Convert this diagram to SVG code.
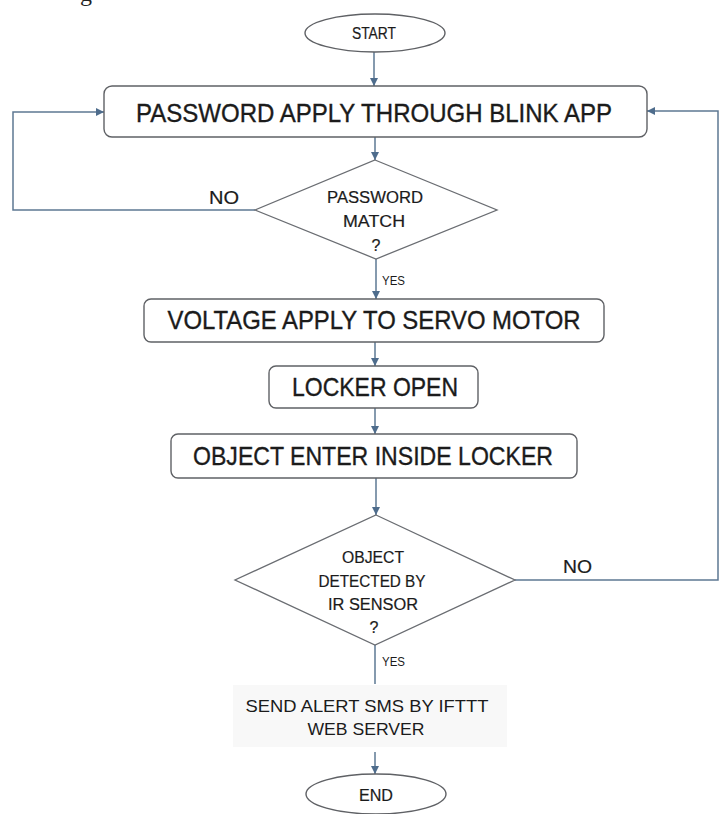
<svg xmlns="http://www.w3.org/2000/svg" width="723" height="814" viewBox="0 0 723 814">
  <style>
    .box { fill: #ffffff; stroke: #5f6165; stroke-width: 1.4; }
    .dia { fill: #ffffff; stroke: #6a6d72; stroke-width: 1.3; }
    .conn { fill: none; stroke: #5d7893; stroke-width: 1.5; }
    .t { font-family: "Liberation Sans", Arial, sans-serif; fill: #1b1b1b; text-anchor: middle; }
    .big { font-size: 25px; stroke: #1b1b1b; stroke-width: 0.35; }
    .mid { font-size: 16px; stroke: #1b1b1b; stroke-width: 0.2; }
    .small { font-size: 12px; text-anchor: start; }
    .lbl { font-size: 18px; text-anchor: start; stroke: #1b1b1b; stroke-width: 0.2; }
  </style>
  <defs>
    <marker id="arrow" markerUnits="userSpaceOnUse" markerWidth="9" markerHeight="9" refX="8" refY="4" orient="auto">
      <path d="M0,0 L8,4 L0,8 z" fill="#4e6c8c"/>
    </marker>
  </defs>

  <rect width="723" height="814" fill="#ffffff"/>

  <!-- tail of a glyph from the caption line above -->
  <text x="80" y="1" font-family="Liberation Serif, serif" font-size="24" fill="#222">g</text>

  <!-- connectors -->
  <g id="connectors">
    <path class="conn" d="M374,52 V86" marker-end="url(#arrow)"/>
    <path class="conn" d="M375,137 V160" marker-end="url(#arrow)"/>
    <path class="conn" d="M255,210 H13 V112 H104" marker-end="url(#arrow)"/>
    <path class="conn" d="M376,259 V299" marker-end="url(#arrow)"/>
    <path class="conn" d="M375,342 V366" marker-end="url(#arrow)"/>
    <path class="conn" d="M375,408 V434" marker-end="url(#arrow)"/>
    <path class="conn" d="M376,478 V515" marker-end="url(#arrow)"/>
    <path class="conn" d="M515,580 H718 V111 H647" marker-end="url(#arrow)"/>
    <path class="conn" d="M375,645 V684"/>
    <path class="conn" d="M375,752 V774" marker-end="url(#arrow)"/>
    <text class="t lbl" x="209" y="204" textLength="30" lengthAdjust="spacingAndGlyphs">NO</text>
    <text class="t small" x="382" y="285" textLength="23" lengthAdjust="spacingAndGlyphs">YES</text>
    <text class="t lbl" x="563" y="573" textLength="29" lengthAdjust="spacingAndGlyphs">NO</text>
    <text class="t small" x="382" y="666" textLength="23" lengthAdjust="spacingAndGlyphs">YES</text>
  </g>

  <g id="start">
    <ellipse class="box" cx="375" cy="33" rx="70" ry="19"/>
    <text class="t mid" x="374" y="39" textLength="44" lengthAdjust="spacingAndGlyphs">START</text>
  </g>

  <g id="password-apply">
    <rect class="box" x="104" y="86" width="543" height="51" rx="8"/>
    <text class="t big" x="374" y="122" textLength="476" lengthAdjust="spacingAndGlyphs">PASSWORD APPLY THROUGH BLINK APP</text>
  </g>

  <g id="password-match">
    <polygon class="dia" points="375,160 497,210 376,259 255,210"/>
    <text class="t mid" x="375" y="203" textLength="96" lengthAdjust="spacingAndGlyphs">PASSWORD</text>
    <text class="t mid" x="374" y="227" textLength="62" lengthAdjust="spacingAndGlyphs">MATCH</text>
    <text class="t mid" x="376" y="251">?</text>
  </g>

  <g id="voltage-apply">
    <rect class="box" x="144" y="299" width="460" height="43" rx="7"/>
    <text class="t big" x="374" y="329" textLength="413" lengthAdjust="spacingAndGlyphs">VOLTAGE APPLY TO SERVO MOTOR</text>
  </g>

  <g id="locker-open">
    <rect class="box" x="269" y="366" width="209" height="42" rx="7"/>
    <text class="t big" x="375" y="396" textLength="166" lengthAdjust="spacingAndGlyphs">LOCKER OPEN</text>
  </g>

  <g id="object-enter">
    <rect class="box" x="171" y="434" width="406" height="44" rx="7"/>
    <text class="t big" x="373" y="465" textLength="360" lengthAdjust="spacingAndGlyphs">OBJECT ENTER INSIDE LOCKER</text>
  </g>

  <g id="object-detected">
    <polygon class="dia" points="376,515 515,580 375,645 235,580"/>
    <text class="t mid" x="373" y="563" textLength="62" lengthAdjust="spacingAndGlyphs">OBJECT</text>
    <text class="t mid" x="372" y="587" textLength="107" lengthAdjust="spacingAndGlyphs">DETECTED BY</text>
    <text class="t mid" x="373" y="610" textLength="90" lengthAdjust="spacingAndGlyphs">IR SENSOR</text>
    <text class="t mid" x="374" y="633">?</text>
  </g>

  <g id="send-alert">
    <rect x="233" y="685" width="274" height="62" fill="#f8f8f8"/>
    <text class="t" font-size="17" x="367" y="712" textLength="243" lengthAdjust="spacingAndGlyphs">SEND ALERT SMS BY IFTTT</text>
    <text class="t" font-size="17" x="366" y="735" textLength="117" lengthAdjust="spacingAndGlyphs">WEB SERVER</text>
  </g>

  <g id="end">
    <ellipse class="box" cx="376" cy="794" rx="70" ry="20"/>
    <text class="t mid" x="376" y="801" textLength="34" lengthAdjust="spacingAndGlyphs">END</text>
  </g>
</svg>
